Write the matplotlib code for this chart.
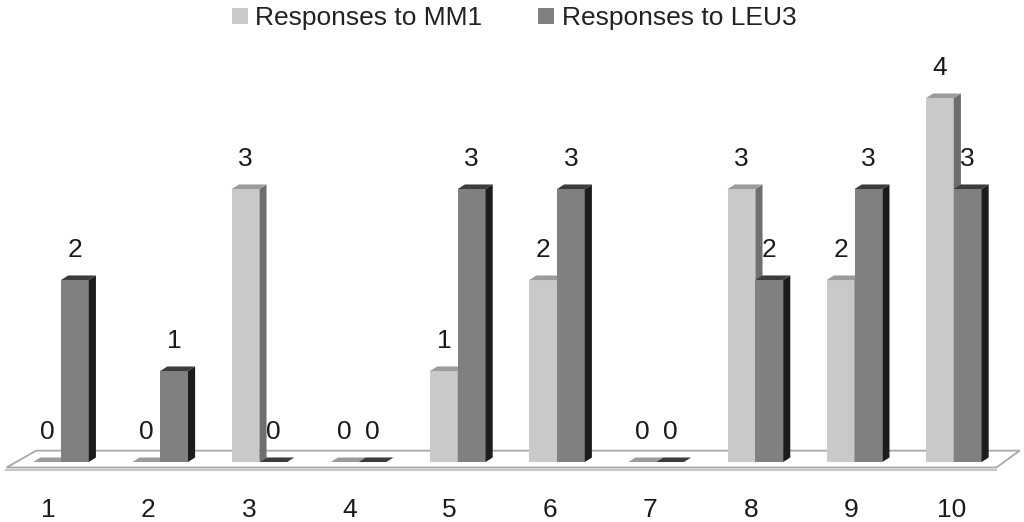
import matplotlib
matplotlib.use('Agg')
import matplotlib.pyplot as plt
from matplotlib.patches import Polygon, Patch
import numpy as np

plt.rcParams['font.family'] = ['Liberation Sans', 'DejaVu Sans']

# data
categories = ['1', '2', '3', '4', '5', '6', '7', '8', '9', '10']
mm1 = [0, 0, 3, 0, 1, 2, 0, 3, 2, 4]
leu3 = [2, 1, 0, 0, 3, 3, 0, 2, 3, 3]
series_names = ['Responses to MM1', 'Responses to LEU3']

# look
front_cols = ['#c9c9c9', '#808080']
side_cols = ['#6e6e6e', '#1c1c1c']
top_cols = ['#9c9c9c', '#3c3c3c']
bw = 0.28      # width of one bar
dx = 0.072     # depth offset (x)
dy = 0.05      # depth offset (y)

fig = plt.figure(figsize=(10.24, 5.22), dpi=100)
ax = fig.add_axes([0, 0, 1, 1])
ax.set_xlim(0.385, 10.708)
ax.set_ylim(-0.659, 5.077)
ax.axis('off')

x = np.arange(1, len(categories) + 1)

# floor
n = len(categories)
floor = Polygon([(0.45, -0.06), (0.75, 0.125), (n + 0.665, 0.125), (n + 0.43, -0.06)],
                closed=True, facecolor='white', edgecolor='#a8a8a8', lw=1.3, zorder=1)
ax.add_patch(floor)
ax.plot([0.45, n + 0.43], [-0.085, -0.085], color='#c8c8c8', lw=1.5, zorder=1)

for i in range(n):
    for s, vals in enumerate([mm1, leu3]):
        v = vals[i]
        left = x[i] - bw if s == 0 else x[i]
        z = 3 + i * 2 + s
        if v > 0:
            ax.bar(left, v, width=bw, align='edge', color=front_cols[s],
                   edgecolor='none', zorder=z)
            side = Polygon([(left + bw, 0), (left + bw + dx, dy), (left + bw + dx, v + dy),
                            (left + bw, v)], closed=True, facecolor=side_cols[s],
                           edgecolor='none', zorder=z)
            ax.add_patch(side)
        top = Polygon([(left, v), (left + dx, v + dy), (left + bw + dx, v + dy),
                       (left + bw, v)], closed=True, facecolor=top_cols[s],
                      edgecolor='none', zorder=z)
        ax.add_patch(top)
        ax.text(left + bw / 2, v + 0.33, str(v), ha='center', va='center',
                fontsize=19, color='#1a1a1a', zorder=50)

# category labels (slight perspective shift to the left)
for i, c in enumerate(categories):
    ax.text(x[i] - 0.13 + 0.012 * i, -0.53, c, ha='center', va='center',
            fontsize=19, color='#1a1a1a')

handles = [Patch(facecolor=front_cols[0], edgecolor='none'),
           Patch(facecolor=front_cols[1], edgecolor='none')]
ax.legend(handles, series_names, loc='upper center', bbox_to_anchor=(0.502, 1.008),
          ncol=2, frameon=False, fontsize=19, handlelength=0.6, handleheight=0.6,
          handletextpad=0.3, columnspacing=2.1, borderaxespad=0, labelcolor='#222222')

fig.savefig('out.png', dpi=100)
